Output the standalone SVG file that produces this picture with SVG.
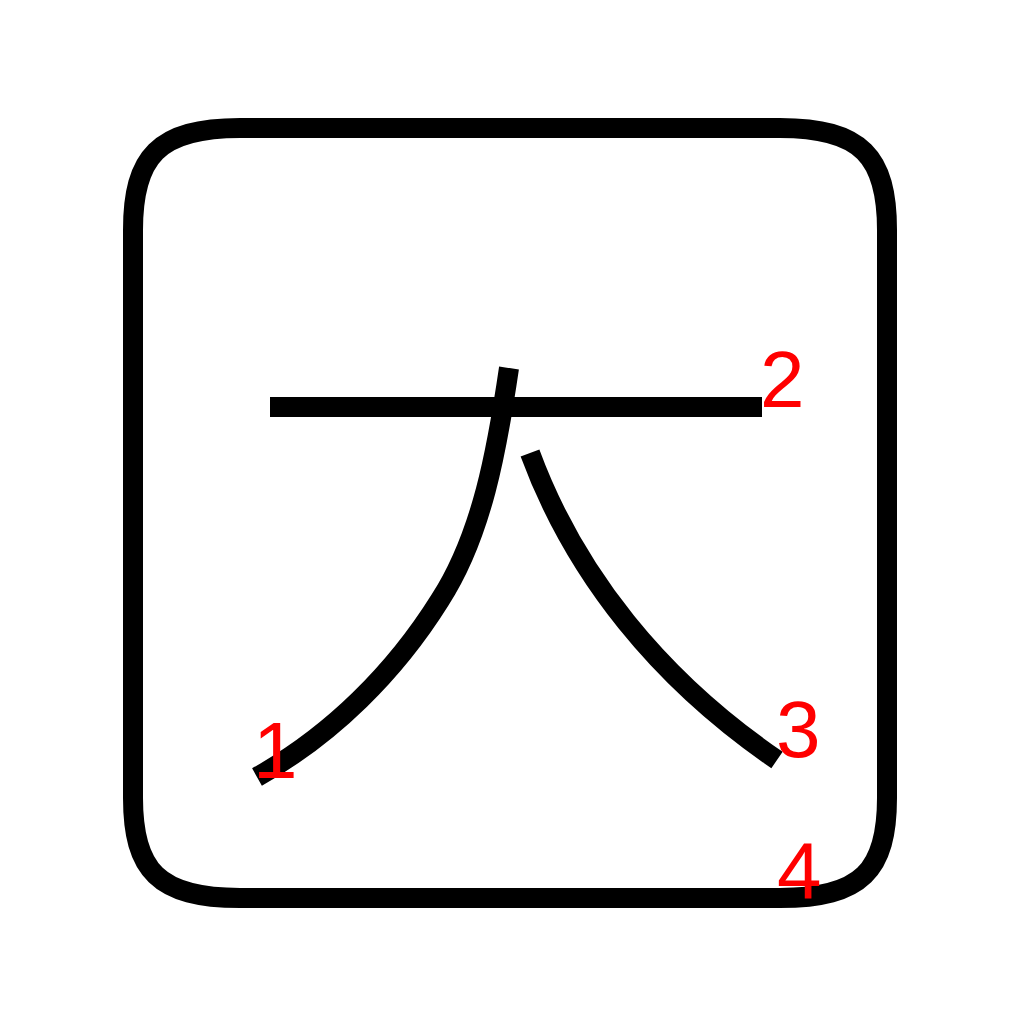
<svg xmlns="http://www.w3.org/2000/svg" width="1024" height="1024" viewBox="0 0 1024 1024">
<style>
.s{fill:none;stroke:#000;stroke-width:20;stroke-linecap:butt;stroke-linejoin:round}
.n{fill:#f00;font-family:"Liberation Sans",Arial,sans-serif;font-size:80px}
</style>
<rect width="1024" height="1024" fill="#fff"/>
<g id="frame">
<path class="s" d="M240,128 H780 C862,128 887,157 887,230 V798 C887,870 862,898 780,898 H240 C158,898 133,870 133,798 V230 C133,157 158,128 240,128 Z"/>
</g>
<g id="strokes">
<path id="stroke1" class="s" d="M509,368 C497,450 482,535 440,600 C395,672 332,735 257,777"/>
<path id="stroke2" class="s" d="M270,407 H762"/>
<path id="stroke3" class="s" d="M530,453 C575,575 660,680 777,760"/>
</g>
<g id="labels">
<text class="n" x="253" y="778">1</text>
<text class="n" x="760" y="407">2</text>
<text class="n" x="776" y="757">3</text>
<text class="n" x="777" y="898">4</text>
</g>
</svg>
